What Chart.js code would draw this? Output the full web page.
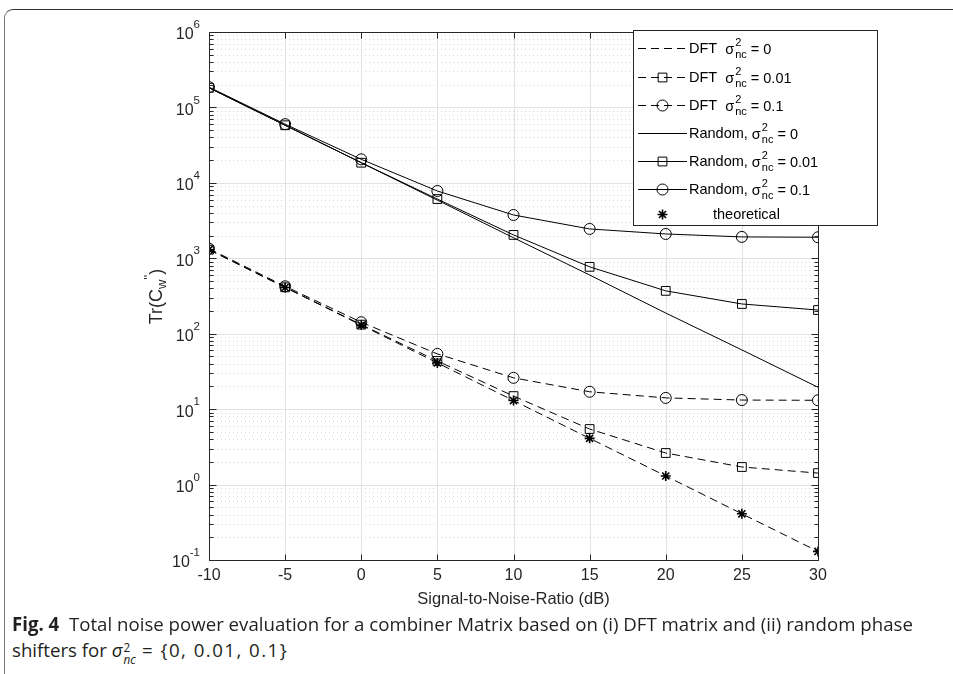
<!DOCTYPE html>
<html>
<head>
<meta charset="utf-8">
<script src="https://cdn.jsdelivr.net/npm/chart.js@4/dist/chart.umd.min.js"></script>
<style>
  html, body { margin: 0; padding: 0; background: #fff; }
  #wrap { position: relative; width: 953px; height: 674px; overflow: hidden; }
  #frame {
    position: absolute; left: 4px; top: 9px; width: 1000px; height: 700px;
    border-left: 1.5px solid #777; border-top: 1.5px solid #333; border-top-left-radius: 9px;
  }
  #chartBox { position: absolute; left: 0; top: 0; width: 953px; height: 612px; }
  .caption {
    position: absolute; left: 12px; white-space: nowrap; transform-origin: 0 0;
    font-family: "Open Sans", "Noto Sans", sans-serif; font-size: 19px; line-height: 24px; color: #231f20;
  }
  .caption b { font-weight: 700; }
  .ss { display: inline-block; vertical-align: -7px; font-size: 12px; line-height: 12px; margin-left: 1px; }
  .ss span { display: block; }
  .set { letter-spacing: 1.5px; }
</style>
</head>
<body>
<div id="wrap">
  <div id="frame"></div>
  <div id="chartBox"><canvas id="chart"></canvas></div>
  <div class="caption" id="cap1" style="top:612px"><b>Fig. 4</b>&nbsp; Total noise power evaluation for a combiner Matrix based on (i) DFT matrix and (ii) random phase</div>
  <div class="caption" id="cap2" style="top:638px">shifters for <i>σ</i><span class="ss"><span>2</span><span><i>nc</i></span></span><span class="set"> = {0, 0.01, 0.1}</span></div>
</div>

<script>
// ---- data ----
const snr = [-10, -5, 0, 5, 10, 15, 20, 25, 30]

const dftZero    = [1300, 410, 130, 41, 13, 4.1, 1.3, 0.41, 0.13]
const dftSmall   = [1300, 412, 132, 43.5, 14.9, 5.45, 2.62, 1.71, 1.42]
const dftLarge   = [1340, 425, 142, 54, 26, 17, 14.1, 13.2, 13.1]
const randZero   = [182000, 58000, 18500, 5900, 1870, 600, 188, 61, 19.5]
const randSmall  = [182000, 58000, 18500, 6100, 2040, 770, 370, 248, 206]
const randLarge  = [186000, 60000, 20500, 7800, 3750, 2450, 2100, 1920, 1900]
const theoretical = [1300, 410, 130, 41, 13, 4.1, 1.3, 0.41, 0.13]

const seriesNames = ['DFT', 'DFT', 'DFT', 'Random,', 'Random,', 'Random,', 'theoretical']
const sigmaValues = ['0', '0.01', '0.1', '0', '0.01', '0.1', null]

const xTicks = [-10, -5, 0, 5, 10, 15, 20, 25, 30]
const yDecades = [0.1, 1, 10, 100, 1000, 10000, 100000, 1000000]
const yExponents = ['-1', '0', '1', '2', '3', '4', '5', '6']
const minorSteps = [2, 3, 4, 5, 6, 7, 8, 9]

const INK = '#262626'
const FONT = '"Liberation Sans", Arial, sans-serif'
const DASH = [8, 5]

function pts(values) {
  return values.map((v, i) => ({ x: snr[i], y: v }))
}

function series(values, opts) {
  return Object.assign({
    data: pts(values),
    borderColor: '#000',
    backgroundColor: 'rgba(0,0,0,0)',
    borderWidth: 1,
    pointBorderColor: '#000',
    pointBackgroundColor: 'rgba(0,0,0,0)',
    pointBorderWidth: 1,
    pointRadius: 0,
    tension: 0,
    fill: false
  }, opts)
}

// ---- MATLAB-ish axes, grid, labels and legend ----
function drawSigma(ctx, x, yMid, value) {
  ctx.font = `14.5px ${FONT}`
  ctx.textBaseline = 'middle'
  ctx.fillText('σ', x, yMid + 1)
  x += ctx.measureText('σ').width + 1
  ctx.font = `11px ${FONT}`
  ctx.fillText('2', x, yMid - 6)
  ctx.fillText('nc', x, yMid + 6)
  x += ctx.measureText('nc').width + 4
  ctx.font = `14.5px ${FONT}`
  ctx.fillText('= ' + value, x, yMid + 1)
}

const matlabAxes = {
  id: 'matlabAxes',
  beforeDatasetsDraw(chart) {
    const { ctx, chartArea: a, scales: { x, y } } = chart
    ctx.save()
    ctx.lineWidth = 1
    // minor dotted grid
    ctx.strokeStyle = '#d6d6d6'
    ctx.setLineDash([1, 3])
    yDecades.slice(0, -1).forEach(d => {
      minorSteps.forEach(m => {
        const py = Math.round(y.getPixelForValue(d * m)) + 0.5
        ctx.beginPath(); ctx.moveTo(a.left, py); ctx.lineTo(a.right, py); ctx.stroke()
      })
    })
    // major grid
    ctx.setLineDash([])
    ctx.strokeStyle = '#e3e3e3'
    yDecades.forEach(d => {
      const py = Math.round(y.getPixelForValue(d)) + 0.5
      ctx.beginPath(); ctx.moveTo(a.left, py); ctx.lineTo(a.right, py); ctx.stroke()
    })
    xTicks.forEach(t => {
      const px = Math.round(x.getPixelForValue(t)) + 0.5
      ctx.beginPath(); ctx.moveTo(px, a.top); ctx.lineTo(px, a.bottom); ctx.stroke()
    })
    ctx.restore()
  },
  afterDatasetsDraw(chart) {
    const { ctx, chartArea: a, scales: { x, y } } = chart
    const L = Math.round(a.left) + 0.5, R = Math.round(a.right) + 0.5
    const T = Math.round(a.top) + 0.5, B = Math.round(a.bottom) + 0.5
    ctx.save()
    ctx.strokeStyle = INK
    ctx.lineWidth = 1
    ctx.beginPath()
    ctx.rect(L, T, R - L, B - T)
    ctx.stroke()
    // ticks
    ctx.beginPath()
    xTicks.forEach(t => {
      const px = Math.round(x.getPixelForValue(t)) + 0.5
      ctx.moveTo(px, B); ctx.lineTo(px, B - 6)
      ctx.moveTo(px, T); ctx.lineTo(px, T + 6)
    })
    yDecades.forEach((d, k) => {
      const py = Math.round(y.getPixelForValue(d)) + 0.5
      ctx.moveTo(L, py); ctx.lineTo(L + 7, py)
      ctx.moveTo(R, py); ctx.lineTo(R - 7, py)
      if (k < yDecades.length - 1) {
        minorSteps.forEach(m => {
          const pm = Math.round(y.getPixelForValue(d * m)) + 0.5
          ctx.moveTo(L, pm); ctx.lineTo(L + 4, pm)
          ctx.moveTo(R, pm); ctx.lineTo(R - 4, pm)
        })
      }
    })
    ctx.stroke()

    // y tick labels 10^n
    ctx.fillStyle = INK
    ctx.textBaseline = 'middle'
    yDecades.forEach((d, k) => {
      const py = y.getPixelForValue(d)
      ctx.font = `11.5px ${FONT}`
      const ew = ctx.measureText(yExponents[k]).width
      ctx.textAlign = 'right'
      ctx.fillText(yExponents[k], 200, py - 7)
      ctx.font = `16px ${FONT}`
      ctx.fillText('10', 200 - ew, py + 3)
    })

    // y axis title Tr(C_w'')
    ctx.save()
    ctx.translate(162, (T + B) / 2)
    ctx.rotate(-Math.PI / 2)
    ctx.textAlign = 'left'
    ctx.textBaseline = 'alphabetic'
    const parts = [['Tr(C', 18, 0], ['w', 13, 4], ["''", 13, -9], [')', 18, 0]]
    let total = 0
    parts.forEach(p => { ctx.font = `${p[1]}px ${FONT}`; total += ctx.measureText(p[0]).width })
    let cx = -total / 2
    parts.forEach(p => {
      ctx.font = `${p[1]}px ${FONT}`
      ctx.fillText(p[0], cx, p[2])
      cx += ctx.measureText(p[0]).width
    })
    ctx.restore()

    // legend
    const lx = 633.5, ly = 30.5, lw = 244, lh = 195
    ctx.fillStyle = '#fff'
    ctx.fillRect(lx, ly, lw, lh)
    ctx.strokeStyle = INK
    ctx.strokeRect(lx, ly, lw, lh)
    const rowY = [48, 77, 105, 133, 161, 189, 214]
    chart.data.datasets.forEach((ds, i) => {
      const ry = rowY[i] + 0.5
      ctx.strokeStyle = '#000'
      ctx.lineWidth = 1
      if (ds.showLine !== false) {
        ctx.setLineDash(ds.borderDash || [])
        ctx.beginPath(); ctx.moveTo(638, ry); ctx.lineTo(687, ry); ctx.stroke()
        ctx.setLineDash([])
      }
      if (ds.pointRadius > 0) {
        ctx.fillStyle = 'rgba(0,0,0,0)'
        ctx.lineWidth = ds.pointBorderWidth
        Chart.helpers.drawPoint(ctx, {
          pointStyle: ds.pointStyle, radius: ds.pointRadius, rotation: 0, borderWidth: ds.pointBorderWidth
        }, 662.5, ry)
      }
      ctx.fillStyle = '#000'
      ctx.textAlign = 'left'
      ctx.textBaseline = 'middle'
      ctx.font = `14.5px ${FONT}`
      if (sigmaValues[i] === null) {
        ctx.fillText(seriesNames[i], 713, ry)
      } else {
        const sep = seriesNames[i] === 'DFT' ? '  ' : ' '
        const txt = seriesNames[i] + sep
        ctx.fillText(txt, 689, ry)
        drawSigma(ctx, 689 + ctx.measureText(txt).width, ry, sigmaValues[i])
      }
    })
    ctx.restore()
  }
}

new Chart(document.getElementById('chart'), {
  type: 'line',
  data: {
    datasets: [
      series(dftZero,   { borderDash: DASH }),
      series(dftSmall,  { borderDash: DASH, pointStyle: 'rect', pointRadius: 6.2 }),
      series(dftLarge,  { borderDash: DASH, pointStyle: 'circle', pointRadius: 5.5 }),
      series(randZero,  {}),
      series(randSmall, { pointStyle: 'rect', pointRadius: 6.2 }),
      series(randLarge, { pointStyle: 'circle', pointRadius: 5.5 }),
      series(theoretical, { showLine: false, pointStyle: 'star', pointRadius: 5, pointBorderWidth: 1.6 })
    ]
  },
  options: {
    responsive: true,
    maintainAspectRatio: false,
    animation: false,
    layout: { padding: { left: 0, top: 32, right: 135, bottom: 0 } },
    plugins: { legend: { display: false }, tooltip: { enabled: false } },
    scales: {
      x: {
        type: 'linear',
        min: -10,
        max: 30,
        afterBuildTicks: s => { s.ticks = xTicks.map(v => ({ value: v })) },
        afterFit: s => { s.height = 52 },
        grid: { display: false, drawTicks: false },
        border: { display: false },
        ticks: { color: INK, font: { family: FONT, size: 16 }, padding: 6, maxRotation: 0 },
        title: {
          display: true,
          text: 'Signal-to-Noise-Ratio (dB)',
          color: INK,
          font: { family: FONT, size: 16.5 },
          padding: { top: 0, bottom: 3 }
        }
      },
      y: {
        type: 'logarithmic',
        min: 0.1,
        max: 1000000,
        afterFit: s => { s.width = 209 },
        grid: { display: false, drawTicks: false },
        border: { display: false },
        ticks: { display: false }
      }
    }
  },
  plugins: [matlabAxes]
})

// squeeze the caption into the measured width of the original
const cap1 = document.getElementById('cap1')
const cap2 = document.getElementById('cap2')
const k = 901 / cap1.offsetWidth
cap1.style.transform = `scaleX(${k})`
cap2.style.transform = `scaleX(${k})`
</script>
</body>
</html>
